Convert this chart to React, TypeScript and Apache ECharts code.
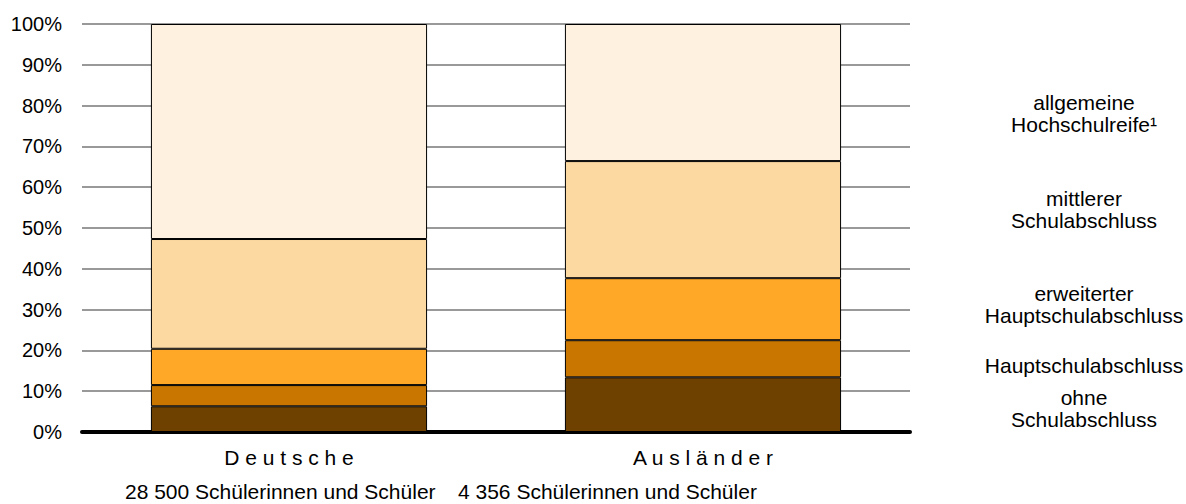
import React, { useEffect, useRef } from "react";
import * as echarts from "echarts";

const categories = ["D e u t s c h e", "A u s l ä n d e r"];
const seriesNames = [
  "ohne Schulabschluss",
  "Hauptschulabschluss",
  "erweiterter Hauptschulabschluss",
  "mittlerer Schulabschluss",
  "allgemeine Hochschulreife¹",
];
const ohne = [6.3, 13.4];
const haupt = [5.2, 9.1];
const erweitert = [8.9, 15.2];
const mittlerer = [26.9, 28.7];
const allgemeine = [52.7, 33.6];
const colors = ["#6f4100", "#c87600", "#ffa726", "#fdd9a2", "#fef1e0"];
const yTicks = [0, 10, 20, 30, 40, 50, 60, 70, 80, 90, 100];
const counts = ["28 500 Schülerinnen und Schüler", "4 356 Schülerinnen und Schüler"];
const rightLabels = [
  { text: "allgemeine\nHochschulreife¹", y: 113 },
  { text: "mittlerer\nSchulabschluss", y: 209 },
  { text: "erweiterter\nHauptschulabschluss", y: 304 },
  { text: "Hauptschulabschluss", y: 365 },
  { text: "ohne\nSchulabschluss", y: 408 },
];

export default function App() {
  const ref = useRef<HTMLDivElement>(null);
  useEffect(() => {
    if (!ref.current) return;
    const chart = echarts.init(ref.current, null, { renderer: "svg" });
    const data = [ohne, haupt, erweitert, mittlerer, allgemeine];
    const font = "Liberation Sans, Arial, sans-serif";
    chart.setOption({
      animation: false,
      grid: { left: 82, right: 276, top: 24, bottom: 72, containLabel: false },
      xAxis: {
        type: "category",
        data: categories,
        axisLine: { show: true, lineStyle: { color: "#000", width: 4 } },
        axisTick: { show: false },
        axisLabel: { color: "#000", fontSize: 21, fontFamily: font, margin: 15 },
      },
      yAxis: {
        type: "value",
        min: 0,
        max: 100,
        interval: 10,
        axisLine: { show: false },
        axisTick: { show: false },
        axisLabel: {
          color: "#000",
          fontSize: 20,
          fontFamily: font,
          margin: 20,
          formatter: (v: number) => (yTicks.includes(v) ? v + "%" : ""),
        },
        splitLine: { show: true, lineStyle: { color: "#999", width: 2 } },
      },
      series: data.map((d, i) => ({
        name: seriesNames[i],
        type: "bar",
        stack: "total",
        data: d,
        barWidth: "66.7%",
        itemStyle: { color: colors[i], borderColor: "#000", borderWidth: 1 },
      })),
      graphic: [
        ...counts.map((t, i) => ({
          type: "text",
          left: i === 0 ? 125 : 458,
          top: 481,
          style: { text: t, fontSize: 21, fontFamily: font, fill: "#000" },
        })),
        ...rightLabels.map((l) => ({
          type: "text",
          x: 1084,
          y: l.y,
          style: {
            text: l.text,
            fontSize: 21,
            lineHeight: 22,
            fontFamily: font,
            fill: "#000",
            align: "center",
            verticalAlign: "middle",
          },
        })),
      ],
    });
    return () => chart.dispose();
  }, []);
  return <div ref={ref} style={{ width: 1186, height: 504, position: "absolute", left: 0, top: 0 }} />;
}
